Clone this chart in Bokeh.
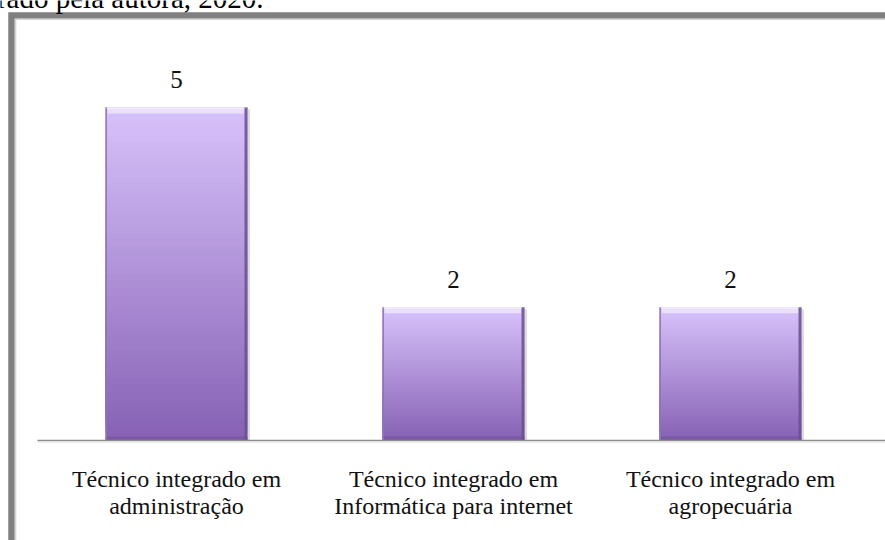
from bokeh.plotting import figure
from bokeh.models import Range1d
from bokeh.core.properties import value
from bokeh.embed import file_html
from bokeh.resources import INLINE

# ---- data ----
categories = [
    "Técnico integrado em\nadministração",
    "Técnico integrado em\nInformática para internet",
    "Técnico integrado em\nagropecuária",
]
counts = [5, 2, 2]
caption = "Elaborado pela autora, 2020."

# ---- geometry of the canvas (pixels -> data) ----
W, H = 885, 540
PX_X = 277.0     # pixels per category step
X0 = 176.0       # pixel x of the first category
PX_Y = 66.6      # pixels per unit of count
Y0 = 440.0       # pixel y of the baseline
FONT = value("Times New Roman")

def dx(px):
    return (px - X0) / PX_X

def dy(py):
    return (Y0 - py) / PX_Y

p = figure(width=W, height=H, output_backend="svg", toolbar_location=None,
           x_axis_location=None, y_axis_location=None,
           x_range=Range1d(dx(0), dx(W)), y_range=Range1d(dy(H), dy(0)),
           min_border=0, min_border_left=0, min_border_right=0,
           min_border_top=0, min_border_bottom=0)
p.outline_line_color = None
p.xgrid.visible = False
p.ygrid.visible = False
p.background_fill_color = "white"
p.border_fill_color = "white"

xs = list(range(len(categories)))
BW = 142.0 / PX_X  # bar width in data units

# ---- gradient bars (each slice runs to the bar top; later slices paint over) ----
top_c = (216, 194, 251)
bot_c = (134, 97, 180)
N = 48
L, R, B, T, C = [], [], [], [], []
for x, v in zip(xs, counts):
    for k in range(N):
        f = (k + 0.5) / N  # 0 at bottom, 1 at top
        col = tuple(int(round(bot_c[i] + (top_c[i] - bot_c[i]) * f)) for i in range(3))
        L.append(x - BW / 2)
        R.append(x + BW / 2)
        B.append(v * k / N)
        T.append(v)
        C.append("#%02x%02x%02x" % col)
p.quad(left=L, right=R, bottom=B, top=T, fill_color=C, line_color=None)

lefts = [x - BW / 2 for x in xs]
rights = [x + BW / 2 for x in xs]
zeros = [0] * len(xs)

# shadow right of bar
p.quad(left=rights, right=[r + 2.5 / PX_X for r in rights], bottom=zeros,
       top=[v - 2 / PX_Y for v in counts], fill_color="#dcdcdc", line_color=None)
# top bevel highlight
p.quad(left=[l + 2 / PX_X for l in lefts], right=[r - 3 / PX_X for r in rights],
       bottom=[v - 6 / PX_Y for v in counts], top=counts,
       fill_color="#eadffd", line_color=None)
p.quad(left=lefts, right=rights, bottom=[v - 1.5 / PX_Y for v in counts], top=counts,
       fill_color="#f4eefe", line_color=None)
# bottom bevel
p.quad(left=lefts, right=rights, bottom=zeros, top=[4 / PX_Y] * len(xs),
       fill_color="#7b58a6", line_color=None)
# right edge
p.quad(left=[r - 3 / PX_X for r in rights], right=rights, bottom=zeros, top=counts,
       fill_color="#6a4d92", line_color=None, fill_alpha=0.85)
# left edge
p.quad(left=lefts, right=[l + 1.5 / PX_X for l in lefts], bottom=zeros, top=counts,
       fill_color="#8e76b0", line_color=None, fill_alpha=0.9)

# ---- baseline ----
p.segment(x0=[dx(37)], y0=[0], x1=[dx(W + 5)], y1=[0], line_color="#8c8c8c", line_width=1.6)
p.segment(x0=[dx(37)], y0=[dy(441.8)], x1=[dx(W + 5)], y1=[dy(441.8)], line_color="#e6e6e6", line_width=1)

# ---- value labels ----
p.text(x=xs, y=counts, text=[str(v) for v in counts], y_offset=-28,
       text_align="center", text_baseline="alphabetic",
       text_font=FONT, text_font_size="25px", text_color="#111111")

# ---- category labels (two lines) ----
line1 = [c.split("\n")[0] for c in categories]
line2 = [c.split("\n")[1] for c in categories]
p.text(x=xs, y=zeros, text=line1, y_offset=38,
       text_align="center", text_baseline="alphabetic",
       text_font=FONT, text_font_size="24px", text_color="#111111")
p.text(x=xs, y=zeros, text=line2, y_offset=65,
       text_align="center", text_baseline="alphabetic",
       text_font=FONT, text_font_size="24px", text_color="#111111")

# ---- frame border (decoration) ----
p.line(x=[dx(11), dx(11), dx(W + 10)], y=[dy(H + 10), dy(15), dy(15)],
       line_color="#808080", line_width=6.5, line_join="miter")
p.line(x=[dx(15), dx(15), dx(W + 10)], y=[dy(H + 10), dy(18.8), dy(18.8)],
       line_color="#d4d4d4", line_width=1.6, line_join="miter")

# ---- caption (cut off at the top) ----
p.text(x=[dx(263)], y=[dy(-3)], text=[caption], text_align="right",
       text_baseline="alphabetic", text_font=FONT,
       text_font_size="29px", text_color="#000000")

open("out.html", "w").write(file_html(p, INLINE))
